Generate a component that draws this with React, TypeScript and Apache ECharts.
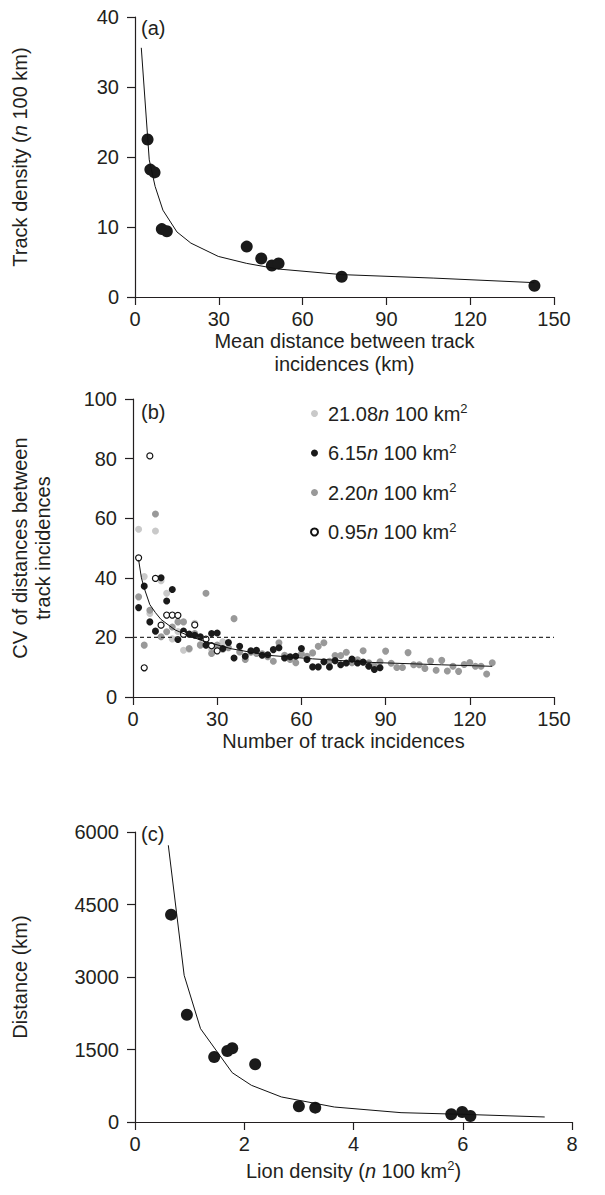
import React, { useEffect, useRef } from "react";
import * as echarts from "echarts";

// Panel (a): track density vs mean distance between track incidences
const aDistance = [4.5, 5.5, 7.0, 9.6, 11.4, 40.0, 45.2, 49.0, 51.4, 74.0, 143.0];
const aDensity = [22.5, 18.2, 17.8, 9.7, 9.4, 7.2, 5.5, 4.5, 4.8, 2.9, 1.6];
const aFitX = [2.25, 5.1, 7.2, 10, 15, 20, 29.8, 40, 51.2, 74, 107, 143];
const aFitY = [35.6, 19.6, 15.8, 12.4, 9.3, 7.7, 5.8, 4.8, 4.0, 3.2, 2.7, 2.05];

// Panel (b): CV of distances vs number of track incidences
const bLightX = [2, 4, 6, 8, 10, 12, 14, 16, 18, 20, 22, 24, 26, 28, 30, 32];
const bLightY = [56.3, 40.4, 28, 55.7, 39, 34.8, 19.5, 22, 15.7, 16, 24.7, 17.6, 19.3, 16, 16.5, 18.5];

const bBlackX = [2, 4, 6, 8, 10, 12, 14, 16, 18, 20, 22, 24, 26, 28, 30, 32, 34, 36, 38, 40, 42, 44,
  46, 48, 50, 52, 54, 56, 58, 60, 62, 64, 66, 68, 70, 72, 74, 76, 78, 80, 82, 84, 86, 88];
const bBlackY = [30, 37.2, 25.2, 22.1, 40, 32.2, 36.1, 19.3, 22.1, 21.1, 20.7, 20.2, 17.4, 21.3, 21.5,
  16.3, 18.3, 13.1, 17, 13.7, 15.5, 15.7, 14, 14.2, 15.9, 16.5, 13.1, 13.5, 13.7, 16.3, 12.6, 10.1,
  10.1, 11.8, 10.1, 12.2, 10.8, 11.4, 12.7, 11.4, 11.7, 10.3, 9.2, 9.8];

const bMidX = [2, 4, 6, 8, 10, 12, 14, 16, 18, 20, 22, 24, 26, 28, 30, 32, 34, 36, 38, 40, 42, 44, 46,
  48, 50, 52, 54, 56, 58, 60, 62, 64, 66, 68, 70, 72, 74, 76, 78, 80, 82, 84, 86, 88, 90, 92, 94, 96,
  98, 100, 102, 104, 106, 108, 110, 112, 114, 116, 118, 120, 122, 124, 126, 128];
const bMidY = [33.6, 17.4, 29.1, 61.4, 20.2, 21.9, 23.5, 25.2, 25.2, 16.3, 21.3, 17.4, 34.8, 14.6, 17.4,
  16, 16.5, 26.3, 15.1, 12.6, 15, 14.6, 14.5, 13.5, 12, 18.2, 14, 12.6, 11.5, 14.5, 13.7, 14.8, 17,
  18.2, 12, 13.9, 13.9, 15, 11.5, 12.5, 15.5, 11.5, 10.5, 11.8, 15.4, 11.3, 9.9, 9.9, 14.9, 10.8, 10.8,
  9.6, 12.1, 9, 12.3, 8.7, 10.3, 8.6, 10.9, 11.6, 10.3, 10.3, 7.7, 11.5];

const bOpenX = [2, 4, 6, 8, 10, 12, 14, 16, 18, 22, 26, 28, 30];
const bOpenY = [46.7, 9.8, 80.9, 39.8, 24.1, 27.5, 27.5, 27.4, 21, 24.2, 19.4, 17.2, 15.5];

const bFitX = [2, 3, 4, 6, 8, 10, 15, 20, 25, 35, 48, 64, 85, 110, 128];
const bFitY = [46, 40, 36.5, 31, 28.3, 26, 22.5, 20.5, 18.8, 16.2, 14, 12.8, 11.6, 10.8, 10.3];

const bThresholdX = [0, 150];
const bThresholdY = [20, 20];

// Panel (c): distance vs lion density
const cDensity = [0.66, 0.95, 1.45, 1.69, 1.78, 2.2, 3.0, 3.3, 5.79, 5.99, 6.14];
const cDistance = [4290, 2220, 1345, 1470, 1525, 1195, 325, 297, 159, 207, 124];
const cFitX = [0.61, 0.9, 1.2, 1.78, 2.13, 2.68, 3.65, 4.87, 5.99, 7.5];
const cFitY = [5725, 3035, 1930, 1020, 760, 518, 310, 193, 159, 104];

const legendNames = ["21.08", "6.15", "2.20", "0.95"];

const FONT = '"Liberation Sans", Arial, Helvetica, sans-serif';
const INK = "#231f20";
const FS = 20;

const pts = (xs: number[], ys: number[]) => xs.map((x, i) => [x, ys[i]]);

const rich = {
  i: { fontStyle: "italic", fontSize: FS, fontFamily: FONT, color: INK },
  s: { fontSize: 13, fontFamily: FONT, color: INK, verticalAlign: "top", lineHeight: 12 },
};

function axisBase(isX: boolean) {
  return {
    type: "value",
    axisLine: { show: true, onZero: false, lineStyle: { color: INK, width: 1.2 } },
    axisTick: { show: true, length: 8, inside: false, lineStyle: { color: INK, width: 1.2 } },
    splitLine: { show: false },
    axisLabel: { fontSize: FS, color: INK, fontFamily: FONT, margin: isX ? 12 : 16,
      formatter: (v: number) => String(v) },
    nameLocation: "middle",
    nameTextStyle: { fontSize: FS, color: INK, fontFamily: FONT, lineHeight: 23, rich },
  };
}

function App() {
  const ref = useRef<HTMLDivElement>(null);
  useEffect(() => {
    if (!ref.current) return;
    const chart = echarts.init(ref.current, null, { renderer: "svg" });
    const option = {
      animation: false,
      backgroundColor: "#ffffff",
      grid: [
        { left: 133, top: 17, width: 421, height: 280 },
        { left: 133, top: 399, width: 421, height: 298 },
        { left: 133, top: 832, width: 439, height: 290 },
      ],
      xAxis: [
        { ...axisBase(true), gridIndex: 0, min: 0, max: 150, interval: 30,
          name: "Mean distance between track\nincidences (km)", nameGap: 28 },
        { ...axisBase(true), gridIndex: 1, min: 0, max: 150, interval: 30,
          name: "Number of track incidences", nameGap: 31 },
        { ...axisBase(true), gridIndex: 2, min: 0, max: 8, interval: 2,
          name: "Lion density ({i|n} 100 km{s|2})", nameGap: 37 },
      ],
      yAxis: [
        { ...axisBase(false), gridIndex: 0, min: 0, max: 40, interval: 10,
          name: "Track density ({i|n} 100 km)", nameGap: 104 },
        { ...axisBase(false), gridIndex: 1, min: 0, max: 100, interval: 20,
          name: "CV of distances between\ntrack incidences", nameGap: 79 },
        { ...axisBase(false), gridIndex: 2, min: 0, max: 6000, interval: 1500,
          name: "Distance (km)", nameGap: 104 },
      ],
      legend: {
        orient: "vertical",
        left: 310,
        top: 402,
        padding: 0,
        itemWidth: 7,
        itemHeight: 7,
        itemGap: 16.5,
        icon: "circle",
        selectedMode: false,
        data: legendNames,
        formatter: (name: string) => `${name}{i|n} 100 km{s|2}`,
        textStyle: { fontSize: FS, color: INK, fontFamily: FONT, lineHeight: 23, padding: [0, 0, 0, 5], rich },
      },
      graphic: [
        { type: "text", left: 141, top: 18, style: { text: "(a)", fontSize: FS, fontFamily: FONT, fill: INK } },
        { type: "text", left: 141, top: 402, style: { text: "(b)", fontSize: FS, fontFamily: FONT, fill: INK } },
        { type: "text", left: 141, top: 824, style: { text: "(c)", fontSize: FS, fontFamily: FONT, fill: INK } },
      ],
      series: [
        { type: "scatter", xAxisIndex: 0, yAxisIndex: 0, symbolSize: 12,
          itemStyle: { color: "#1a1a1a", opacity: 1 }, data: pts(aDistance, aDensity) },
        { type: "line", xAxisIndex: 0, yAxisIndex: 0, showSymbol: false, symbol: "none",
          lineStyle: { color: "#111", width: 1 }, data: pts(aFitX, aFitY), z: 3 },

        { type: "line", xAxisIndex: 1, yAxisIndex: 1, showSymbol: false, symbol: "none",
          lineStyle: { color: "#333", width: 1.3, type: [4, 3] }, data: pts(bThresholdX, bThresholdY) },
        { name: "21.08", type: "scatter", xAxisIndex: 1, yAxisIndex: 1, symbolSize: 7,
          itemStyle: { color: "#c9c9c9", opacity: 1 }, data: pts(bLightX, bLightY) },
        { name: "2.20", type: "scatter", xAxisIndex: 1, yAxisIndex: 1, symbolSize: 7,
          itemStyle: { color: "#999999", opacity: 1 }, data: pts(bMidX, bMidY) },
        { name: "6.15", type: "scatter", xAxisIndex: 1, yAxisIndex: 1, symbolSize: 7,
          itemStyle: { color: "#1a1a1a", opacity: 1 }, data: pts(bBlackX, bBlackY) },
        { name: "0.95", type: "scatter", xAxisIndex: 1, yAxisIndex: 1, symbolSize: 6,
          itemStyle: { color: "#ffffff", borderColor: "#111", borderWidth: 1.2, opacity: 1 }, data: pts(bOpenX, bOpenY) },
        { type: "line", xAxisIndex: 1, yAxisIndex: 1, showSymbol: false, symbol: "none",
          lineStyle: { color: "#111", width: 1 }, data: pts(bFitX, bFitY), z: 3 },

        { type: "scatter", xAxisIndex: 2, yAxisIndex: 2, symbolSize: 12,
          itemStyle: { color: "#1a1a1a", opacity: 1 }, data: pts(cDensity, cDistance) },
        { type: "line", xAxisIndex: 2, yAxisIndex: 2, showSymbol: false, symbol: "none",
          lineStyle: { color: "#111", width: 1 }, data: pts(cFitX, cFitY), z: 3 },
      ],
    };
    chart.setOption(option as any);
    return () => chart.dispose();
  }, []);
  return (
    <div
      ref={ref}
      style={{ position: "absolute", left: 0, top: 0, width: 605, height: 1195, background: "#fff" }}
    />
  );
}

export default App;
